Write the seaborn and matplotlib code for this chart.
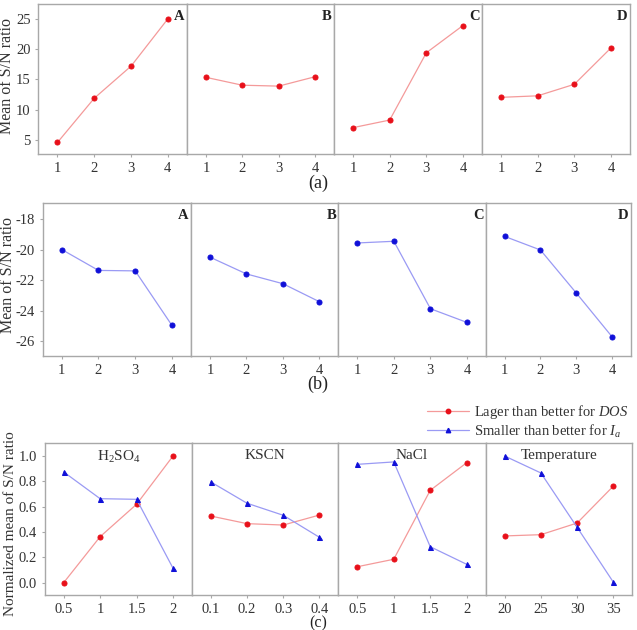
import matplotlib
matplotlib.use("Agg")
import matplotlib.pyplot as plt
import matplotlib.lines as mlines
import pandas as pd
import seaborn as sns

# ---------------- data ----------------
levels = [1, 2, 3, 4]

# (a) larger-the-better S/N means (DOS)
a_factors = ["A", "B", "C", "D"]
a_A = [4.6, 11.9, 17.2, 25.0]
a_B = [15.35, 14.05, 13.9, 15.45]
a_C = [7.05, 8.3, 19.4, 23.9]
a_D = [12.05, 12.3, 14.2, 20.2]

# (b) smaller-the-better S/N means (Ia)
b_factors = ["A", "B", "C", "D"]
b_A = [-20.0, -21.37, -21.4, -24.97]
b_B = [-20.5, -21.6, -22.24, -23.42]
b_C = [-19.57, -19.46, -23.88, -24.78]
b_D = [-19.14, -20.03, -22.85, -25.72]

# (c) normalized means
c_titles = ["H$_2$SO$_4$", "KSCN", "NaCl", "Temperature"]
c_xlabels = [["0.5", "1", "1.5", "2"],
             ["0.1", "0.2", "0.3", "0.4"],
             ["0.5", "1", "1.5", "2"],
             ["20", "25", "30", "35"]]
c_dos = [[0.0, 0.363, 0.619, 1.0],
         [0.526, 0.466, 0.455, 0.534],
         [0.126, 0.185, 0.729, 0.947],
         [0.369, 0.379, 0.471, 0.763]]
c_ia = [[0.874, 0.663, 0.658, 0.114],
        [0.795, 0.627, 0.532, 0.358],
        [0.934, 0.953, 0.284, 0.145],
        [1.0, 0.866, 0.437, 0.003]]
legend_labels = ["Lager than better for $\\mathit{DOS}$",
                 "Smaller than better for $\\mathit{I}_{\\mathit{a}}$"]

# ---------------- style ----------------
sns.set_theme(style="white")
plt.rcParams["font.family"] = ["Liberation Serif", "DejaVu Serif"]
plt.rcParams["mathtext.fontset"] = "custom"
plt.rcParams["mathtext.rm"] = "Liberation Serif"
plt.rcParams["mathtext.it"] = "Liberation Serif:italic"
plt.rcParams["mathtext.bf"] = "Liberation Serif:bold"
plt.rcParams["axes.unicode_minus"] = False

RED_LINE = "#f49a9a"
RED_MK = "#e8101a"
BLUE_LINE = "#9a9af4"
BLUE_MK = "#1010d8"
FRAME = "#a8a8a8"
TXT = "#333333"
MS = 3.6

W, H = 637, 630
fig = plt.figure(figsize=(W / 100, H / 100), dpi=100)


def add_ax(x0, x1, y0, y1):
    return fig.add_axes([x0 / W, 1 - y1 / H, (x1 - x0) / W, (y1 - y0) / H])


def style_ax(ax, first, yticks, yfmt, ylim):
    ax.set_xlim(0.48, 4.52)
    ax.set_ylim(*ylim)
    ax.set_xticks(levels)
    ax.set_xlabel("")
    ax.set_ylabel("")
    for s in ax.spines.values():
        s.set_color(FRAME)
        s.set_linewidth(1.0)
    ax.tick_params(length=2.5, width=0.8, color=FRAME, pad=3, labelsize=10.5,
                   labelcolor=TXT, bottom=True, left=first)
    ax.set_yticks(yticks)
    if first:
        ax.set_yticklabels([yfmt.format(v) for v in yticks])
    else:
        ax.set_yticklabels([])


def draw(ax, vals, line_c, mk_c, marker):
    df = pd.DataFrame({"level": levels, "value": vals})
    sns.lineplot(data=df, x="level", y="value", ax=ax, color=line_c,
                 linewidth=0.9, marker=marker, markersize=MS,
                 markerfacecolor=mk_c, markeredgecolor=mk_c, legend=False)


# ----- row (a) -----
xa = [38.3, 187, 334, 482, 630]
a_vals = [a_A, a_B, a_C, a_D]
for i in range(4):
    ax = add_ax(xa[i], xa[i + 1], 4.3, 154)
    draw(ax, a_vals[i], RED_LINE, RED_MK, "o")
    style_ax(ax, i == 0, [5, 10, 15, 20, 25], "{:d}", (2.7, 27.4))
    ax.text(0.985, 0.965, a_factors[i], transform=ax.transAxes, ha="right",
            va="top", fontsize=10.5, fontweight="bold", color="#222222")
    if i == 0:
        ax.set_ylabel("Mean of S/N ratio", fontsize=11.5, color=TXT)
        ax.yaxis.set_label_coords(-0.16, 0.52)
fig.text(318 / W, 1 - 183 / H, "(a)", ha="center", va="center", fontsize=13, color="#222222")

# ----- row (b) -----
xb = [42.7, 191, 338.3, 486, 630.7]
b_vals = [b_A, b_B, b_C, b_D]
for i in range(4):
    ax = add_ax(xb[i], xb[i + 1], 203.3, 356)
    draw(ax, b_vals[i], BLUE_LINE, BLUE_MK, "o")
    style_ax(ax, i == 0, [-18, -20, -22, -24, -26], "{:d}", (-26.98, -16.97))
    ax.text(0.985, 0.965, b_factors[i], transform=ax.transAxes, ha="right",
            va="top", fontsize=10.5, fontweight="bold", color="#222222")
    if i == 0:
        ax.set_ylabel("Mean of S/N ratio", fontsize=11.5, color=TXT)
        ax.yaxis.set_label_coords(-0.178, 0.53)
fig.text(318 / W, 1 - 384 / H, "(b)", ha="center", va="center", fontsize=13, color="#222222")

# ----- row (c) -----
xc = [44.7, 192, 338.3, 485.7, 632.3]
for i in range(4):
    ax = add_ax(xc[i], xc[i + 1], 443.3, 595)
    draw(ax, c_dos[i], RED_LINE, RED_MK, "o")
    draw(ax, c_ia[i], BLUE_LINE, BLUE_MK, "^")
    style_ax(ax, i == 0, [0.0, 0.2, 0.4, 0.6, 0.8, 1.0], "{:.1f}", (-0.097, 1.1))
    ax.set_xticklabels(c_xlabels[i])
    ax.text(0.5, 0.965, c_titles[i], transform=ax.transAxes, ha="center",
            va="top", fontsize=11, color=TXT)
    if i == 0:
        ax.set_ylabel("Normalized mean of S/N ratio", fontsize=11, color=TXT)
        ax.yaxis.set_label_coords(-0.19, 0.47)
fig.text(318 / W, 1 - 623.5 / H, "(c)", ha="center", va="center", fontsize=11.5, color="#222222")

handles = [
    mlines.Line2D([], [], color=RED_LINE, lw=0.9, marker="o", markersize=3.2,
                  markerfacecolor=RED_MK, markeredgecolor=RED_MK),
    mlines.Line2D([], [], color=BLUE_LINE, lw=0.9, marker="^", markersize=3.2,
                  markerfacecolor=BLUE_MK, markeredgecolor=BLUE_MK),
]
fig.legend(handles, legend_labels, loc="upper right",
           bbox_to_anchor=(628 / W, 1 - 403 / H), frameon=False,
           fontsize=10.5, handlelength=2.9, handletextpad=0.3,
           labelspacing=0.1, borderpad=0.0, borderaxespad=0.0,
           labelcolor=TXT)

fig.savefig("out.png", dpi=100)
